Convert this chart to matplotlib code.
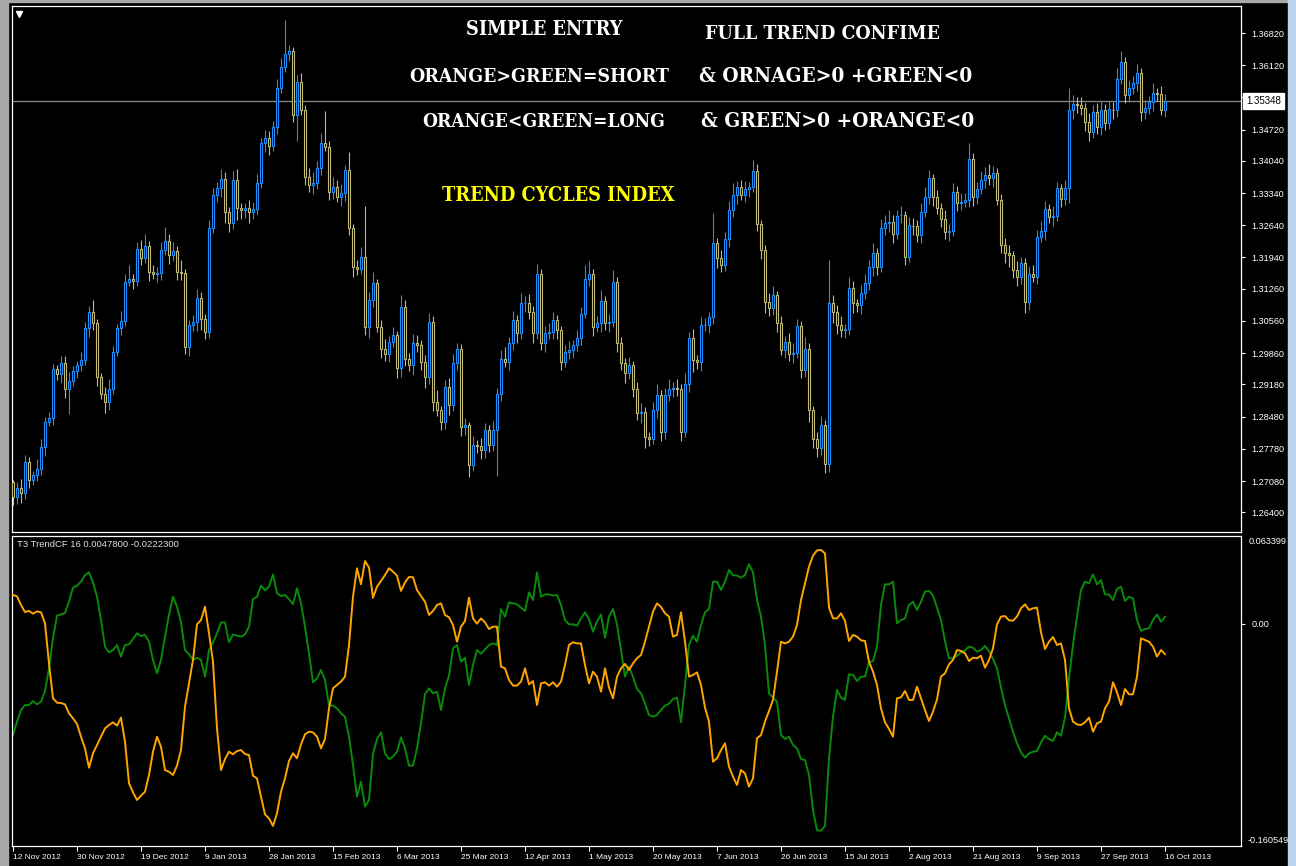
import matplotlib
matplotlib.use("Agg")
import matplotlib.pyplot as plt
from matplotlib.patches import Rectangle
from matplotlib import font_manager as fm

W, H, DPI = 1296, 866, 100

# ---------------- data ----------------
dates = ["12 Nov 2012", "30 Nov 2012", "19 Dec 2012", "9 Jan 2013", "28 Jan 2013",
         "15 Feb 2013", "6 Mar 2013", "25 Mar 2013", "12 Apr 2013", "1 May 2013",
         "20 May 2013", "7 Jun 2013", "26 Jun 2013", "15 Jul 2013", "2 Aug 2013",
         "21 Aug 2013", "9 Sep 2013", "27 Sep 2013", "16 Oct 2013"]
date_bars = [0, 16, 32, 48, 64, 80, 96, 112, 128, 144, 160, 176, 192, 208, 224, 240, 256, 272, 288]

first_open = 1.2705
close = [
    1.2674, 1.2693, 1.2681, 1.2750, 1.2710, 1.2722, 1.2734, 1.2782, 1.2837, 1.2844, 1.2951, 1.2940, 1.2964, 1.2909, 1.2925, 1.2947,
    1.2960, 1.2971, 1.3040, 1.3076, 1.3051, 1.2935, 1.2898, 1.2880, 1.2909, 1.2989, 1.3040, 1.3056, 1.3141, 1.3147, 1.3143, 1.3212,
    1.3193, 1.3220, 1.3163, 1.3159, 1.3161, 1.3210, 1.3230, 1.3199, 1.3208, 1.3163, 1.3160, 1.3000, 1.3047, 1.3053, 1.3105, 1.3061,
    1.3032, 1.3257, 1.3330, 1.3346, 1.3364, 1.3293, 1.3268, 1.3362, 1.3301, 1.3297, 1.3302, 1.3293, 1.3299, 1.3355, 1.3442, 1.3454,
    1.3437, 1.3478, 1.3562, 1.3609, 1.3636, 1.3643, 1.3504, 1.3576, 1.3515, 1.3370, 1.3351, 1.3355, 1.3389, 1.3442, 1.3435, 1.3337,
    1.3348, 1.3326, 1.3335, 1.3384, 1.3257, 1.3174, 1.3170, 1.3196, 1.3043, 1.3101, 1.3138, 1.3043, 1.2996, 1.2985, 1.3011, 1.3025,
    1.2953, 1.3087, 1.2974, 1.2960, 1.3007, 1.3004, 1.2967, 1.2935, 1.3054, 1.2880, 1.2862, 1.2837, 1.2913, 1.2873, 1.2964, 1.2996,
    1.2826, 1.2829, 1.2742, 1.2786, 1.2784, 1.2775, 1.2819, 1.2786, 1.2819, 1.2898, 1.2974, 1.2967, 1.3007, 1.3058, 1.3029, 1.3094,
    1.3096, 1.3076, 1.3029, 1.3159, 1.3007, 1.3029, 1.3031, 1.3058, 1.3036, 1.2967, 1.2989, 1.2993, 1.3003, 1.3019, 1.3072, 1.3148,
    1.3159, 1.3043, 1.3051, 1.3099, 1.3051, 1.3054, 1.3141, 1.3007, 1.2964, 1.2942, 1.2960, 1.2909, 1.2855, 1.2858, 1.2804, 1.2800,
    1.2862, 1.2895, 1.2815, 1.2895, 1.2909, 1.2911, 1.2908, 1.2815, 1.2920, 1.3018, 1.2971, 1.2967, 1.3047, 1.3048, 1.3065, 1.3225,
    1.3192, 1.3177, 1.3235, 1.3297, 1.3330, 1.3348, 1.3330, 1.3343, 1.3348, 1.3382, 1.3266, 1.3210, 1.3098, 1.3085, 1.3112, 1.3051,
    1.2993, 1.3011, 1.2985, 1.2987, 1.3045, 1.2949, 1.2996, 1.2862, 1.2800, 1.2779, 1.2829, 1.2746, 1.3094, 1.3076, 1.3047, 1.3036,
    1.3038, 1.3127, 1.3094, 1.3090, 1.3116, 1.3138, 1.3174, 1.3203, 1.3174, 1.3257, 1.3268, 1.3272, 1.3246, 1.3285, 1.3286, 1.3196,
    1.3264, 1.3263, 1.3243, 1.3293, 1.3326, 1.3366, 1.3326, 1.3301, 1.3278, 1.3250, 1.3252, 1.3337, 1.3312, 1.3315, 1.3319, 1.3409,
    1.3326, 1.3343, 1.3362, 1.3373, 1.3367, 1.3378, 1.3320, 1.3221, 1.3203, 1.3199, 1.3167, 1.3152, 1.3181, 1.3098, 1.3157, 1.3152,
    1.3239, 1.3251, 1.3299, 1.3283, 1.3285, 1.3344, 1.3322, 1.3344, 1.3515, 1.3527, 1.3525, 1.3518, 1.3489, 1.3466, 1.3511, 1.3478,
    1.3515, 1.3486, 1.3516, 1.3515, 1.3583, 1.3618, 1.3547, 1.3562, 1.3573, 1.3594, 1.3511, 1.3518, 1.3531, 1.3551, 1.3549, 1.3515,
    1.35348]

upper_wick_pips = [
    5, 12, 20, 15, 10, 8, 22, 18, 10, 14, 12, 9, 16, 15, 20, 12,
    10, 18, 14, 12, 25, 10, 8, 15, 20, 12, 10, 22, 18, 30, 12, 15,
    20, 25, 10, 14, 12, 18, 30, 15, 20, 10, 25, 8, 12, 16, 20, 15,
    10, 18, 14, 12, 22, 15, 10, 20, 25, 12, 10, 18, 15, 20, 12, 18,
    15, 12, 20, 18, 74, 12, 8, 15, 20, 10, 18, 25, 15, 22, 70, 12,
    20, 15, 18, 12, 40, 10, 15, 20, 109, 18, 25, 10, 15, 20, 12, 18,
    10, 25, 15, 12, 20, 18, 10, 15, 20, 12, 25, 10, 15, 18, 20, 12,
    10, 15, 8, 20, 12, 18, 15, 10, 20, 12, 18, 25, 15, 20, 10, 22,
    15, 18, 12, 20, 10, 15, 20, 18, 12, 10, 15, 20, 12, 18, 15, 30,
    28, 10, 15, 25, 12, 18, 25, 10, 15, 12, 18, 10, 15, 20, 12, 10,
    18, 25, 10, 15, 20, 12, 18, 10, 22, 15, 20, 12, 18, 15, 10, 65,
    12, 18, 15, 20, 25, 12, 15, 18, 10, 24, 15, 10, 12, 18, 20, 10,
    15, 12, 18, 20, 15, 10, 25, 12, 10, 15, 20, 12, 94, 18, 15, 20,
    12, 25, 15, 10, 18, 20, 15, 22, 12, 20, 18, 25, 15, 12, 20, 10,
    18, 15, 12, 20, 22, 18, 10, 15, 12, 20, 15, 18, 12, 20, 15, 33,
    12, 15, 20, 18, 25, 15, 10, 12, 15, 18, 10, 20, 15, 12, 18, 20,
    15, 22, 18, 12, 20, 15, 10, 18, 47, 20, 15, 18, 12, 20, 15, 18,
    20, 12, 18, 15, 22, 25, 12, 18, 15, 20, 12, 18, 15, 22, 12, 18,
    15]

lower_wick_pips = [
    19, 15, 20, 12, 18, 10, 15, 12, 20, 10, 15, 12, 18, 20, 55, 10,
    15, 12, 10, 18, 15, 20, 12, 25, 18, 12, 10, 15, 12, 10, 18, 12,
    15, 10, 20, 12, 18, 15, 10, 20, 12, 18, 15, 15, 20, 12, 18, 25,
    15, 12, 10, 15, 20, 25, 18, 12, 25, 20, 18, 25, 15, 12, 10, 18,
    20, 12, 15, 10, 12, 15, 15, 57, 12, 18, 15, 20, 12, 15, 10, 18,
    15, 12, 20, 18, 15, 22, 15, 12, 18, 25, 15, 12, 20, 15, 18, 12,
    20, 18, 15, 12, 22, 15, 18, 25, 15, 20, 12, 18, 15, 22, 12, 15,
    20, 18, 25, 12, 15, 20, 18, 15, 12, 100, 15, 12, 18, 15, 20, 12,
    18, 15, 20, 12, 15, 18, 12, 15, 20, 18, 12, 15, 18, 12, 15, 10,
    15, 20, 12, 18, 15, 20, 12, 18, 15, 20, 12, 18, 15, 20, 25, 15,
    12, 18, 20, 15, 12, 18, 15, 20, 12, 18, 25, 15, 20, 12, 18, 15,
    20, 15, 12, 18, 15, 20, 12, 15, 18, 12, 15, 20, 25, 18, 15, 20,
    12, 18, 15, 20, 12, 18, 15, 25, 20, 18, 15, 20, 18, 25, 20, 15,
    18, 12, 20, 15, 18, 12, 15, 20, 18, 12, 15, 18, 20, 12, 15, 18,
    12, 20, 15, 18, 12, 15, 20, 12, 18, 15, 20, 12, 18, 15, 12, 15,
    20, 15, 12, 18, 15, 20, 12, 18, 20, 25, 18, 20, 15, 25, 18, 12,
    15, 12, 18, 15, 20, 12, 18, 15, 32, 20, 18, 15, 20, 18, 12, 15,
    18, 15, 12, 20, 15, 12, 18, 15, 12, 18, 20, 15, 12, 18, 15, 12,
    15]

orange = [
    0.0207, 0.0197, 0.0134, 0.0083, 0.0091, 0.0071, 0.0088, 0.0081, 0.0001, -0.0289, -0.0542, -0.0574, -0.0576, -0.0586, -0.0651, -0.0687,
    -0.0728, -0.0820, -0.0905, -0.1045, -0.0941, -0.0880, -0.0820, -0.0760, -0.0736, -0.0716, -0.0740, -0.0682, -0.0856, -0.1158, -0.1223, -0.1279,
    -0.1248, -0.1219, -0.1098, -0.0929, -0.0820, -0.0893, -0.1062, -0.1074, -0.1098, -0.1030, -0.0917, -0.0603, -0.0434, -0.0264, -0.0006, 0.0025,
    0.0122, -0.0071, -0.0277, -0.0760, -0.1062, -0.0982, -0.0929, -0.0948, -0.0924, -0.0917, -0.0946, -0.0953, -0.1103, -0.1122, -0.1255, -0.1383,
    -0.1412, -0.1467, -0.1376, -0.1219, -0.1122, -0.0996, -0.0941, -0.0977, -0.0876, -0.0803, -0.0784, -0.0789, -0.0820, -0.0905, -0.0837, -0.0615,
    -0.0470, -0.0446, -0.0421, -0.0385, -0.0156, 0.0194, 0.0400, 0.0284, 0.0453, 0.0405, 0.0187, 0.0267, 0.0308, 0.0351, 0.0400, 0.0376,
    0.0347, 0.0236, 0.0298, 0.0337, 0.0335, 0.0243, 0.0199, 0.0158, 0.0062, 0.0091, 0.0134, 0.0146, 0.0062, 0.0045, -0.0011, -0.0132,
    -0.0023, 0.0018, 0.0187, 0.0037, -0.0001, 0.0037, 0.0008, -0.0040, -0.0023, -0.0023, -0.0313, -0.0325, -0.0409, -0.0450, -0.0450, -0.0421,
    -0.0325, -0.0441, -0.0417, -0.0591, -0.0434, -0.0426, -0.0450, -0.0426, -0.0458, -0.0421, -0.0301, -0.0156, -0.0136, -0.0144, -0.0144, -0.0301,
    -0.0434, -0.0349, -0.0385, -0.0494, -0.0325, -0.0465, -0.0542, -0.0385, -0.0325, -0.0293, -0.0337, -0.0289, -0.0252, -0.0228, -0.0132, -0.0023,
    0.0086, 0.0146, 0.0120, 0.0074, 0.0050, -0.0095, -0.0083, 0.0081, -0.0132, -0.0385, -0.0373, -0.0354, -0.0446, -0.0610, -0.0711, -0.1001,
    -0.0977, -0.0917, -0.0868, -0.1037, -0.1110, -0.1170, -0.1062, -0.1086, -0.1182, -0.1122, -0.0832, -0.0808, -0.0711, -0.0634, -0.0554, -0.0349,
    -0.0132, -0.0144, -0.0132, -0.0095, -0.0011, 0.0170, 0.0291, 0.0412, 0.0492, 0.0530, 0.0533, 0.0508, 0.0115, 0.0037, 0.0037, 0.0074,
    0.0018, -0.0127, -0.0083, -0.0095, -0.0122, -0.0127, -0.0277, -0.0349, -0.0446, -0.0615, -0.0716, -0.0764, -0.0820, -0.0542, -0.0535, -0.0489,
    -0.0554, -0.0554, -0.0458, -0.0542, -0.0627, -0.0707, -0.0639, -0.0550, -0.0385, -0.0361, -0.0296, -0.0264, -0.0192, -0.0199, -0.0216, -0.0272,
    -0.0248, -0.0252, -0.0233, -0.0320, -0.0264, -0.0180, -0.0006, 0.0050, 0.0054, 0.0023, 0.0021, 0.0050, 0.0110, 0.0139, 0.0098, 0.0110,
    0.0115, -0.0064, -0.0185, -0.0132, -0.0098, -0.0156, -0.0144, -0.0264, -0.0615, -0.0711, -0.0731, -0.0736, -0.0716, -0.0682, -0.0784, -0.0723,
    -0.0711, -0.0615, -0.0566, -0.0426, -0.0499, -0.0591, -0.0475, -0.0513, -0.0513, -0.0385, -0.0107, -0.0120, -0.0132, -0.0168, -0.0240, -0.0192,
    -0.02223]

green = [
    -0.0808, -0.0711, -0.0627, -0.0591, -0.0591, -0.0562, -0.0586, -0.0566, -0.0489, -0.0325, -0.0107, 0.0057, 0.0066, 0.0076, 0.0158, 0.0260,
    0.0274, 0.0303, 0.0351, 0.0371, 0.0298, 0.0194, 0.0025, -0.0168, -0.0209, -0.0192, -0.0156, -0.0240, -0.0156, -0.0151, -0.0112, -0.0071,
    -0.0091, -0.0083, -0.0132, -0.0264, -0.0361, -0.0264, -0.0095, 0.0062, 0.0194, 0.0122, 0.0008, -0.0192, -0.0223, -0.0264, -0.0248, -0.0264,
    -0.0385, -0.0192, -0.0139, -0.0071, 0.0008, 0.0008, -0.0136, -0.0079, -0.0088, -0.0095, -0.0079, -0.0023, 0.0178, 0.0194, 0.0274, 0.0240,
    0.0267, 0.0356, 0.0219, 0.0199, 0.0207, 0.0178, 0.0139, 0.0255, 0.0146, -0.0023, -0.0216, -0.0426, -0.0397, -0.0337, -0.0409, -0.0591,
    -0.0595, -0.0615, -0.0651, -0.0675, -0.0820, -0.1025, -0.1255, -0.1146, -0.1327, -0.1279, -0.0948, -0.0837, -0.0789, -0.0941, -0.0982, -0.0965,
    -0.0929, -0.0825, -0.0905, -0.1030, -0.1030, -0.0905, -0.0723, -0.0513, -0.0470, -0.0506, -0.0494, -0.0627, -0.0470, -0.0378, -0.0180, -0.0156,
    -0.0277, -0.0248, -0.0446, -0.0301, -0.0192, -0.0219, -0.0187, -0.0156, -0.0144, -0.0156, 0.0105, 0.0050, 0.0153, 0.0146, 0.0139, 0.0115,
    0.0091, 0.0226, 0.0170, 0.0371, 0.0194, 0.0211, 0.0211, 0.0202, 0.0207, 0.0134, 0.0025, -0.0006, -0.0006, -0.0016, 0.0037, 0.0081,
    0.0033, -0.0059, 0.0013, 0.0066, -0.0103, 0.0050, 0.0105, -0.0006, -0.0192, -0.0385, -0.0313, -0.0385, -0.0475, -0.0506, -0.0579, -0.0663,
    -0.0675, -0.0663, -0.0627, -0.0595, -0.0581, -0.0547, -0.0537, -0.0716, -0.0446, -0.0156, -0.0088, -0.0132, -0.0011, 0.0081, 0.0105, 0.0303,
    0.0303, 0.0243, 0.0303, 0.0388, 0.0351, 0.0347, 0.0332, 0.0351, 0.0429, 0.0371, 0.0170, 0.0050, -0.0156, -0.0506, -0.0537, -0.0566,
    -0.0808, -0.0837, -0.0820, -0.0880, -0.0905, -0.0982, -0.0989, -0.1098, -0.1351, -0.1499, -0.1501, -0.1465, -0.0977, -0.0675, -0.0482, -0.0537,
    -0.0554, -0.0368, -0.0373, -0.0417, -0.0385, -0.0385, -0.0281, -0.0272, -0.0168, 0.0134, 0.0284, 0.0284, 0.0303, 0.0001, 0.0025, 0.0037,
    0.0134, 0.0158, 0.0098, 0.0158, 0.0231, 0.0236, 0.0202, 0.0115, 0.0025, -0.0127, -0.0252, -0.0252, -0.0233, -0.0209, -0.0194, -0.0168,
    -0.0175, -0.0204, -0.0192, -0.0163, -0.0199, -0.0257, -0.0325, -0.0465, -0.0591, -0.0687, -0.0784, -0.0868, -0.0934, -0.0972, -0.0941, -0.0929,
    -0.0924, -0.0861, -0.0813, -0.0837, -0.0851, -0.0789, -0.0813, -0.0682, -0.0397, -0.0156, 0.0050, 0.0243, 0.0303, 0.0291, 0.0356, 0.0284,
    0.0315, 0.0211, 0.0211, 0.0170, 0.0250, 0.0267, 0.0163, 0.0194, 0.0182, 0.0025, -0.0054, -0.0040, -0.0035, 0.0025, 0.0066, 0.0013,
    0.00478]

price_ticks = [1.36820, 1.36120, 1.35420, 1.34720, 1.34040, 1.33340, 1.32640, 1.31940,
               1.31260, 1.30560, 1.29860, 1.29180, 1.28480, 1.27780, 1.27080, 1.26400]
current_price = 1.35348
ind_max = 0.063399
ind_min = -0.160549
indicator_name = "T3 TrendCF 16"

# ---------------- style ----------------
BULL = "#1E90FF"
BEAR = "#C2BC74"
ORANGE = "#FFA500"
GREEN = "#0A8A0A"

fams = {f.name for f in fm.fontManager.ttflist}
LABEL_FONT = ["Liberation Sans", "DejaVu Sans"] if "Liberation Sans" in fams else ["DejaVu Sans"]
plt.rcParams["font.family"] = LABEL_FONT


def pick_title_font():
    best = None
    for f in fm.fontManager.ttflist:
        fn = f.fname.lower()
        narrow = ("condensed" in fn or "narrow" in fn or
                  str(f.stretch) in ("condensed", "semi-condensed", "extra-condensed", "ultra-condensed"))
        boldish = str(f.weight) in ("bold", "700", "heavy", "800", "black", "900", "extra bold") or "bold" in fn
        if narrow and boldish and "oblique" not in fn and "italic" not in fn:
            score = (1 if "serif" in fn and "sans" not in fn else 0)
            if best is None or score > best[0]:
                best = (score, f.fname)
    if best is not None:
        return fm.FontProperties(fname=best[1]), True
    if "Liberation Serif" in fams:
        return fm.FontProperties(family="Liberation Serif", weight="bold"), False
    return fm.FontProperties(family="DejaVu Serif", weight="bold"), False


TITLE_FP, TITLE_NARROW = pick_title_font()

fig = plt.figure(figsize=(W / DPI, H / DPI), dpi=DPI, facecolor="black")


def fx(px):
    return px / W


def fy(py):
    return 1 - py / H


ax1 = fig.add_axes([fx(12), fy(532), fx(1241) - fx(12), fy(6) - fy(532)])
ax2 = fig.add_axes([fx(12), fy(846), fx(1241) - fx(12), fy(536) - fy(846)])

n = len(close)
xs = list(range(n))
opens = [first_open] + close[:-1]

for ax in (ax1, ax2):
    ax.set_facecolor("black")
    for sp in ax.spines.values():
        sp.set_color("white")
        sp.set_linewidth(0.9)
    ax.set_xlim(-0.25, 307.0)

# ---- candles ----
highs = [max(o, c) + u * 1e-4 for o, c, u in zip(opens, close, upper_wick_pips)]
lows = [min(o, c) - d * 1e-4 for o, c, d in zip(opens, close, lower_wick_pips)]
cols = [BULL if c >= o else BEAR for o, c in zip(opens, close)]
ax1.vlines(xs, lows, highs, colors=cols, linewidth=0.8, zorder=2)
for i in xs:
    o, c = opens[i], close[i]
    lo, hi = min(o, c), max(o, c)
    if hi - lo < 0.00012:
        ax1.hlines((o + c) / 2, i - 0.3, i + 0.3, colors=cols[i], linewidth=0.9, zorder=3)
    else:
        ax1.add_patch(Rectangle((i - 0.27, lo), 0.54, hi - lo, facecolor="black",
                                edgecolor=cols[i], linewidth=0.8, zorder=3))

ax1.set_ylim(1.25972, 1.37407)
ax1.axhline(current_price, color="#8A8A8A", linewidth=0.9, zorder=1)

ax1.set_xticks([])
ax1.yaxis.tick_right()
ax1.set_yticks(price_ticks)
ax1.set_yticklabels([f"{p:.5f}" for p in price_ticks])
ax1.tick_params(axis="y", colors="white", length=3, width=0.8, pad=4.5, labelsize=6.6)

ax1.annotate(f"{current_price:.5f}", xy=(1, current_price), xycoords=("axes fraction", "data"),
             xytext=(3.6, 0), textcoords="offset points", va="center", ha="left",
             fontsize=7.0, color="black", zorder=10, annotation_clip=False,
             bbox=dict(boxstyle="square,pad=0.3", fc="white", ec="white"))

ax1.plot([0.0058], [0.985], marker="v", transform=ax1.transAxes, color="white",
         markersize=4.5, linestyle="none", zorder=5)

# ---- indicator ----
ax2.plot(xs, green, color=GREEN, linewidth=1.4, zorder=2)
ax2.plot(xs, orange, color=ORANGE, linewidth=1.4, zorder=3)
ax2.set_ylim(-0.16123, 0.06341)
ax2.yaxis.tick_right()
ax2.set_yticks([0.0])
ax2.set_yticklabels(["0.00"])
ax2.tick_params(axis="y", colors="white", length=3, width=0.8, pad=4.5, labelsize=6.6)
ax2.set_xticks(date_bars)
ax2.set_xticklabels(dates)
ax2.tick_params(axis="x", colors="white", length=3.5, width=0.8, pad=2.2, labelsize=6.0)
for lbl in ax2.get_xticklabels():
    lbl.set_ha("left")

ax2.annotate(f"{ind_max:.6f}", xy=(1, 1), xycoords="axes fraction", xytext=(5.5, -1),
             textcoords="offset points", va="top", ha="left", fontsize=6.6, color="white",
             annotation_clip=False)
ax2.annotate(f"{ind_min:.6f}", xy=(1, 0), xycoords="axes fraction", xytext=(5.0, 0.5),
             textcoords="offset points", va="bottom", ha="left", fontsize=6.6, color="white",
             annotation_clip=False)
ax2.text(0.004, 0.972, f"{indicator_name} {green[-1]:.7f} {orange[-1]:.7f}",
         transform=ax2.transAxes, va="center", ha="left", fontsize=6.8, color="#E0E0E0")

# ---- window chrome ----
fig.add_artist(Rectangle((0, 0), fx(8), 1, transform=fig.transFigure, color="#A8A8A8", zorder=20))
fig.add_artist(Rectangle((0, fy(2)), 1, 2 / H, transform=fig.transFigure, color="#A8A8A8", zorder=20))
fig.add_artist(Rectangle((fx(1288), 0), fx(8), 1, transform=fig.transFigure, color="#BCD3EC", zorder=20))

# ---- headline texts fitted to their boxes ----
renderer = fig.canvas.get_renderer()
titles = [
    ("SIMPLE ENTRY", 466, 622, 28, "white"),
    ("FULL TREND CONFIME", 705, 939, 32, "white"),
    ("ORANGE>GREEN=SHORT", 410, 669, 75, "white"),
    ("& ORNAGE>0 +GREEN<0", 699, 972, 75, "white"),
    ("ORANGE<GREEN=LONG", 422, 666, 120, "white"),
    ("& GREEN>0 +ORANGE<0", 701, 974, 120, "white"),
    ("TREND CYCLES INDEX", 442, 674, 193.5, "#FFFF00"),
]
CAP = 0.72
for s, x0, x1, yc, col in titles:
    fp = TITLE_FP.copy()
    fp.set_size(20)
    t = fig.text(fx(x0), fy(yc), s, color=col, fontproperties=fp,
                 ha="left", va="baseline", zorder=6)
    bb = t.get_window_extent(renderer)
    fs = 20 * (x1 - x0) / bb.width
    capmax = 23.0 / (CAP * DPI / 72)
    fs = min(fs, capmax)
    t.set_fontsize(fs)
    bb = t.get_window_extent(renderer)
    cap_px = CAP * fs * DPI / 72
    shift = x0 - bb.x0
    t.set_position((fx(x0 + shift + (x1 - x0 - bb.width) / 2), fy(yc + cap_px / 2)))

fig.savefig("out.png", dpi=DPI, facecolor="black")
